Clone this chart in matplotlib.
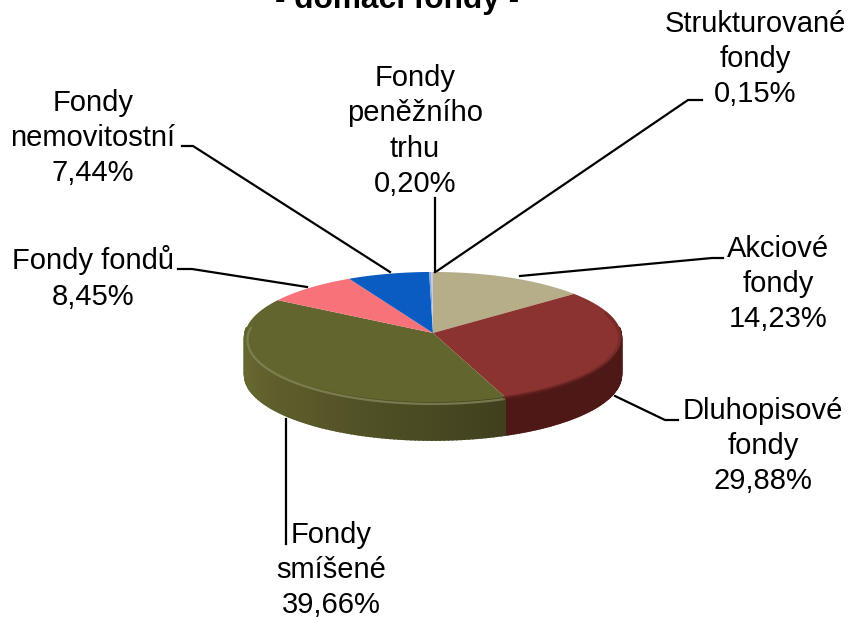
import numpy as np
import matplotlib
matplotlib.use('Agg')
import matplotlib.pyplot as plt
from matplotlib.colors import to_rgb

plt.rcParams['font.family'] = ['Liberation Sans', 'DejaVu Sans']

# Data, clockwise from 12 o'clock
names = ['Akciové\nfondy', 'Dluhopisové\nfondy', 'Fondy\nsmíšené', 'Fondy fondů',
         'Fondy\nnemovitostní', 'Fondy\npeněžního\ntrhu', 'Strukturované\nfondy']
shares = [14.23, 29.88, 39.66, 8.45, 7.44, 0.20, 0.15]
share_labels = ['14,23%', '29,88%', '39,66%', '8,45%', '7,44%', '0,20%', '0,15%']
title = '- domácí fondy -'

top_colors = ['#B6AE88', '#8A3330', '#62652D', '#F8727A', '#0A5CC2', '#8FA9DC', '#C4CAE0']
side_colors = ['#8C8566', '#4E1816', '#666630', '#B9555A', '#07408A', '#6A7FA8', '#9096A8']

# Label centre (px), and leader line points (px)
label_pos = [(778, 284), (763, 446), (331, 570), (93, 278), (93, 138), (415, 131), (755, 59)]
leaders = [
    [(520, 276), (712, 258), (723, 258)],
    [(615, 396), (665, 420), (678, 420)],
    [(286, 419), (286, 544)],
    [(307, 287), (192, 269), (178, 269)],
    [(390, 272), (193, 146), (182, 146)],
    [(435, 272), (435, 198)],
    [(437, 271), (688, 100), (702, 100)],
]

cx, cy, a, b, k, depth = 433, 333, 188, 64.8, 0.0615, 38


def project(theta, r=1.0, drop=0.0):
    # theta clockwise from 12 o'clock, slight perspective on the disc
    u = r * np.sin(theta)
    v = r * np.cos(theta)
    w = 1 + k * v
    return cx + a * u / w, cy - b * v / w + drop


fig = plt.figure(figsize=(8.5, 6.17), dpi=100)
ax = fig.add_axes([0, 0, 1, 1])
ax.set_xlim(0, 850)
ax.set_ylim(617, 0)
ax.axis('off')

edges = np.concatenate([[0], np.cumsum(shares)]) / np.sum(shares) * 2 * np.pi

# side wall, thin shaded strips, only the front half shows
for i in range(len(shares)):
    t = np.linspace(edges[i], edges[i + 1], 120)
    base = np.array(to_rgb(side_colors[i]))
    for t0, t1 in zip(t[:-1], t[1:]):
        tm = (t0 + t1) / 2
        if np.cos(tm) > 0.1:
            continue
        # darker towards the bottom right of the visible wall
        shade = 1.0 - 0.4 * np.clip((np.pi * 1.4 - tm) / (np.pi * 0.55), 0, 1)
        if i == 1:
            shade = 1.0
        xa, ya = project(np.array([t0, t1]))
        xb, yb = project(np.array([t1, t0]), drop=depth)
        c = np.clip(base * shade, 0, 1)
        ax.fill(np.r_[xa, xb], np.r_[ya, yb], facecolor=c, edgecolor=c, lw=1.2, zorder=2)

# top face
for i in range(len(shares)):
    t = np.linspace(edges[i], edges[i + 1], 80)
    x, y = project(t)
    ax.fill(np.r_[cx, x], np.r_[cy, y], color=top_colors[i], lw=0, zorder=3)

# bevel highlight along the front rim of the olive slice, dark rim on the red one
t = np.linspace(edges[2], edges[3], 120)
t = t[np.cos(t) < 0.15]
x, y = project(t, r=0.985, drop=3)
ax.plot(x, y, color='#85855A', lw=1.6, alpha=0.8, zorder=4, solid_capstyle='round')
t = np.linspace(edges[1] + 0.35, edges[2], 80)
x, y = project(t, r=0.992, drop=1)
ax.plot(x, y, color='#6A2523', lw=2.5, alpha=0.5, zorder=4)

# leader lines and labels
for pts in leaders:
    ax.plot(*zip(*pts), color='black', lw=1.6, zorder=5, solid_joinstyle='miter')

for name, share, pos in zip(names, share_labels, label_pos):
    ax.text(pos[0], pos[1], name + '\n' + share, ha='center', va='center', fontsize=21,
            linespacing=1.33, color='black', zorder=6)

ax.text(397, 8, title, ha='center', va='baseline', fontsize=22.8, fontweight='bold', color='black')

fig.savefig('out.png', dpi=100)
